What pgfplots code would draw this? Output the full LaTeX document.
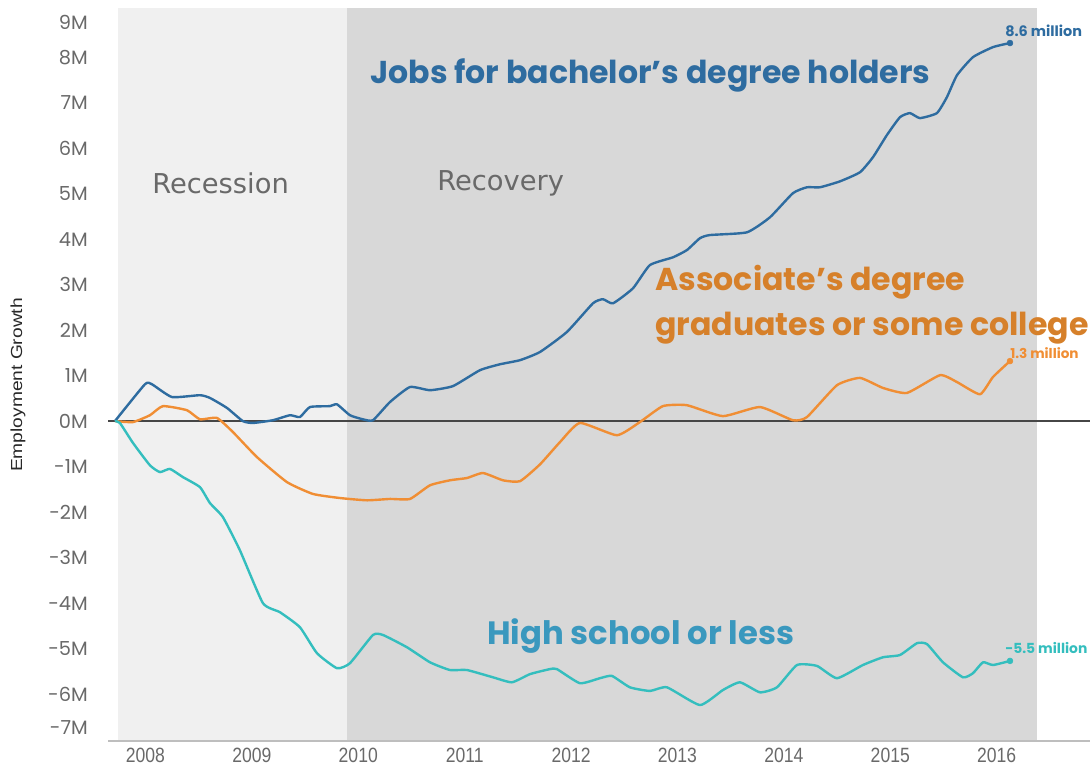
\documentclass[border=0pt]{standalone}
\usepackage{fontspec}
\usepackage{graphicx}
\usepackage{pgfplots}
\pgfplotsset{compat=1.18}
\setmainfont{Liberation Sans}
\newfontfamily\pop{Poppins}
\newfontfamily\dvs{DejaVu Sans}
\definecolor{bachblue}{RGB}{46,108,160}
\definecolor{assocor}{RGB}{240,142,52}
\definecolor{assoctext}{RGB}{214,128,42}
\definecolor{hsteal}{RGB}{52,190,190}
\definecolor{hstext}{RGB}{58,152,190}
\definecolor{recess}{RGB}{240,240,240}
\definecolor{recov}{RGB}{216,216,216}
\definecolor{ticktext}{RGB}{105,105,105}
\definecolor{zeroline}{RGB}{70,70,70}
\definecolor{axisgray}{RGB}{190,190,190}

\begin{document}
\begin{tikzpicture}[x=0.75pt,y=0.75pt]
\path[use as bounding box] (0,0) rectangle (1090,769);
\begin{axis}[
 at={(81pt,21pt)}, anchor=south west,
 width=736.5pt, height=549.75pt, scale only axis,
 xmin=2007.648, xmax=2016.877, ymin=-7.03, ymax=9.08,
 axis x line*=bottom, axis y line*=left,
 x axis line style={draw=axisgray, line width=1pt, -},
 y axis line style={draw=none},
 axis on top,
 major tick length=0pt,
 xtick={2008,2009,2010,2011,2012,2013,2014,2015,2016},
 xticklabels={\scalebox{0.85}[1]{2008},\scalebox{0.85}[1]{2009},\scalebox{0.85}[1]{2010},\scalebox{0.85}[1]{2011},\scalebox{0.85}[1]{2012},\scalebox{0.85}[1]{2013},\scalebox{0.85}[1]{2014},\scalebox{0.85}[1]{2015},\scalebox{0.85}[1]{2016}},
 ytick={-6.73,-6,-5,-4,-3,-2,-1,0,1,2,3,4,5,6,7,8,8.77},
 yticklabels={-7M,-6M,-5M,-4M,-3M,-2M,-1M,0M,1M,2M,3M,4M,5M,6M,7M,8M,9M},
 xticklabel style={font=\fontsize{15.5}{17}\selectfont, text=ticktext, inner sep=0pt, yshift=-5pt, anchor=north},
 yticklabel style={font=\pop\fontsize{14.5}{16}\selectfont, text=ticktext, inner sep=0pt, xshift=-15pt, anchor=east},
]
\addplot[fill=recess, draw=none] coordinates {(2007.742,-7.03) (2007.742,9.08) (2009.894,9.08) (2009.894,-7.03)} -- cycle;
\addplot[fill=recov, draw=none] coordinates {(2009.894,-7.03) (2009.894,9.08) (2016.379,9.08) (2016.379,-7.03)} -- cycle;
\addplot[draw=zeroline, line width=1pt] coordinates {(2007.648,0) (2016.877,0)};
% Bachelor's degree
\addplot[bachblue, line width=1.8pt, line join=round, smooth, tension=0.3] coordinates {
(2007.713,0) (2007.995,0.81) (2008.061,0.81) (2008.249,0.53) (2008.512,0.57) (2008.606,0.51)
(2008.766,0.29) (2008.916,0.00) (2009.010,-0.04) (2009.198,0.02) (2009.358,0.13) (2009.452,0.09)
(2009.546,0.31) (2009.734,0.33) (2009.800,0.37) (2009.922,0.13) (2010.044,0.04) (2010.138,0.02)
(2010.298,0.42) (2010.486,0.75) (2010.674,0.68) (2010.890,0.77) (2011.144,1.12) (2011.332,1.25)
(2011.520,1.34) (2011.708,1.52) (2011.961,1.96) (2012.206,2.59) (2012.300,2.68) (2012.394,2.59)
(2012.582,2.92) (2012.741,3.43) (2012.957,3.60) (2013.089,3.76) (2013.211,4.02) (2013.305,4.09)
(2013.653,4.15) (2013.869,4.48) (2014.085,5.01) (2014.217,5.14) (2014.339,5.14) (2014.527,5.27)
(2014.715,5.47) (2014.837,5.80) (2014.969,6.29) (2015.091,6.68) (2015.185,6.77) (2015.279,6.66)
(2015.438,6.77) (2015.532,7.12) (2015.626,7.60) (2015.777,8.00) (2015.965,8.22) (2016.125,8.31)};
% Associate's degree
\addplot[assocor, line width=1.8pt, line join=round, smooth, tension=0.3] coordinates {
(2007.713,0) (2007.883,-0.02) (2008.042,0.13) (2008.164,0.33) (2008.390,0.24) (2008.512,0.04)
(2008.672,0.07) (2008.822,-0.24) (2009.048,-0.79) (2009.330,-1.34) (2009.574,-1.60) (2009.828,-1.69)
(2010.082,-1.74) (2010.298,-1.71) (2010.486,-1.71) (2010.674,-1.41) (2010.862,-1.30) (2011.021,-1.25)
(2011.172,-1.14) (2011.360,-1.30) (2011.520,-1.32) (2011.708,-0.95) (2011.896,-0.46) (2012.083,-0.04)
(2012.431,-0.31) (2012.647,-0.02) (2012.863,0.33) (2013.089,0.35) (2013.427,0.11) (2013.775,0.31)
(2014.085,0.02) (2014.217,0.09) (2014.499,0.79) (2014.715,0.95) (2014.931,0.73) (2015.157,0.62)
(2015.467,1.01) (2015.626,0.86) (2015.843,0.59) (2015.965,0.97) (2016.125,1.32)};
% High school or less
\addplot[hsteal, line width=1.8pt, line join=round, smooth, tension=0.3] coordinates {
(2007.713,0) (2007.760,-0.04) (2007.883,-0.48) (2008.042,-0.97) (2008.136,-1.12) (2008.230,-1.05)
(2008.352,-1.23) (2008.512,-1.45) (2008.606,-1.80) (2008.728,-2.11) (2008.888,-2.84) (2009.104,-4.00)
(2009.264,-4.20) (2009.452,-4.53) (2009.612,-5.10) (2009.800,-5.43) (2009.922,-5.32) (2010.138,-4.70)
(2010.232,-4.70) (2010.458,-4.97) (2010.674,-5.30) (2010.862,-5.47) (2011.021,-5.47) (2011.266,-5.63)
(2011.444,-5.74) (2011.614,-5.56) (2011.801,-5.45) (2011.867,-5.45) (2012.083,-5.76) (2012.271,-5.65)
(2012.384,-5.60) (2012.553,-5.85) (2012.741,-5.93) (2012.901,-5.85) (2013.211,-6.24) (2013.427,-5.91)
(2013.587,-5.74) (2013.775,-5.96) (2013.935,-5.85) (2014.123,-5.36) (2014.311,-5.38) (2014.499,-5.65)
(2014.743,-5.36) (2014.931,-5.19) (2015.091,-5.14) (2015.251,-4.88) (2015.345,-4.90) (2015.495,-5.30)
(2015.683,-5.63) (2015.777,-5.54) (2015.871,-5.30) (2015.965,-5.36) (2016.125,-5.27)};
\addplot[only marks, mark=*, mark size=2.2pt, bachblue] coordinates {(2016.125,8.31)};
\addplot[only marks, mark=*, mark size=2.2pt, assocor] coordinates {(2016.125,1.32)};
\addplot[only marks, mark=*, mark size=2.2pt, hsteal] coordinates {(2016.125,-5.27)};
\end{axis}
% annotations (pixel coordinates, origin bottom-left)
\node[anchor=west, inner sep=0pt, text=bachblue, font=\pop\bfseries\fontsize{23.7}{26}\selectfont] at (370,694) {Jobs for bachelor’s degree holders};
\node[anchor=west, inner sep=0pt, text=assoctext, font=\pop\bfseries\fontsize{23.7}{26}\selectfont] at (655,487) {Associate’s degree};
\node[anchor=west, inner sep=0pt, text=assoctext, font=\pop\bfseries\fontsize{23.7}{26}\selectfont] at (655,441) {graduates or some college};
\node[anchor=west, inner sep=0pt, text=hstext, font=\pop\bfseries\fontsize{24.2}{26}\selectfont] at (487,133) {High school or less};
\node[anchor=west, inner sep=0pt, text=ticktext, font=\dvs\fontsize{20.5}{22}\selectfont] at (152,586) {Recession};
\node[anchor=west, inner sep=0pt, text=ticktext, font=\dvs\fontsize{20.5}{22}\selectfont] at (437,586) {Recovery};
\node[anchor=west, inner sep=0pt, text=bachblue, font=\pop\bfseries\fontsize{10.8}{12}\selectfont] at (1005,738) {8.6 million};
\node[anchor=west, inner sep=0pt, text=assocor, font=\pop\bfseries\fontsize{10.2}{12}\selectfont] at (1010,416) {1.3 million};
\node[anchor=west, inner sep=0pt, text=hsteal, font=\pop\bfseries\fontsize{10.4}{12}\selectfont] at (1005,121) {-5.5 million};
\node[rotate=90, inner sep=0pt, text={rgb,255:red,40;green,40;blue,40}, font=\fontsize{12}{14}\selectfont] at (18,384) {\scalebox{1.2}[1]{Employment Growth}};
\end{tikzpicture}
\end{document}
